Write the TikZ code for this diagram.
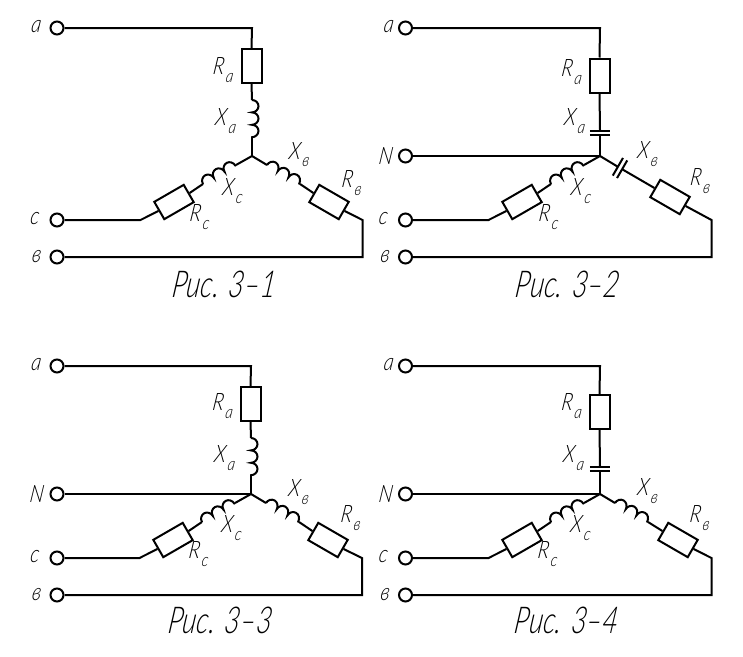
\documentclass[tikz,border=0pt]{standalone}
\usepackage{fontspec}
\usepackage{tikz}
\usetikzlibrary{decorations.pathmorphing}
\newfontfamily\gostfont{Lato}[UprightFont=* Light Italic,FakeStretch=0.82,FakeSlant=0.14]
\newfontfamily\titlefont{Lato}[UprightFont=* Light Italic,FakeStretch=0.735,FakeSlant=0.14]
\newcommand{\sublabel}[2]{#1\kern2pt\raisebox{-0.3em}{\fontsize{18}{18}\selectfont #2}}

\begin{document}
\begin{tikzpicture}[x=1pt,y=-1pt,
		term_style/.style={circle,draw=black,line width=2pt,fill=white,minimum size=13pt,inner sep=0pt},
		res_style/.style={rectangle,draw=black,line width=2pt,fill=white,minimum width=34pt,minimum height=20pt,inner sep=0pt},
		cap_style/.style={rectangle,minimum width=4.5pt,minimum height=20pt,inner sep=0pt},
		text_style/.style={font=\gostfont\fontsize{24}{24}\selectfont,inner sep=0pt},
		title_style/.style={font=\titlefont\fontsize{37}{37}\selectfont,inner sep=0pt},
		edge_style/.style={draw=black,line width=2pt,line join=miter},
		coil_style/.style={draw=black,line width=2pt,decorate,decoration={bumps,segment length=24.8pt,amplitude=6.5pt}}]

		\useasboundingbox (0,0) rectangle (743,656);

		% Fig. 3-1
		\node[term_style] (a1) at (57,28)  {};
		\node[term_style] (c1) at (57,220)  {};
		\node[term_style] (b1) at (57,257)  {};
		\node[text_style] (la1) at (35.5,27)  {а};
		\node[text_style] (lc1) at (34,219)  {с};
		\node[text_style] (lb1) at (36,257)  {в};
		\node[res_style,rotate=-90] (ra1) at (251.5,66)  {};
		\node[res_style,rotate=30] (rc1) at (174,202)  {};
		\node[res_style,rotate=-30] (rb1) at (329,202)  {};
		\coordinate (hub1) at (252,156);
		\coordinate (ta1) at (252,28);
		\coordinate (tc1) at (140.5,220);
		\coordinate (tb1) at (362.5,220);
		\coordinate (bb1) at (362.5,257);
		\coordinate (xa1s) at (252,100);
		\coordinate (xa1e) at (252,138);
		\coordinate (xb1s) at (267,165);
		\coordinate (xb1e) at (300,184);
		\coordinate (xc1s) at (203,184);
		\coordinate (xc1e) at (236,165);
		\draw[edge_style]  (a1) -- (ta1) -- (ra1.west);
		\draw[edge_style]  (ra1.east) -- (xa1s);
		\draw[coil_style]  (xa1s) -- (xa1e);
		\draw[edge_style]  (xa1e) -- (hub1);
		\draw[edge_style]  (hub1) -- (xb1s);
		\draw[coil_style]  (xb1s) -- (xb1e);
		\draw[edge_style]  (xb1e) -- (rb1.west);
		\draw[edge_style]  (rb1.east) -- (tb1) -- (bb1) -- (b1);
		\draw[edge_style]  (hub1) -- (xc1e);
		\draw[coil_style]  (xc1s) -- (xc1e);
		\draw[edge_style]  (xc1s) -- (rc1.east);
		\draw[edge_style]  (rc1.west) -- (tc1) -- (c1);
		\node[text_style] (lra1) at (222.5,70)  {\sublabel{R}{а}};
		\node[text_style] (lxa1) at (225,121)  {\sublabel{X}{а}};
		\node[text_style] (lxb1) at (298.5,154.5)  {\sublabel{X}{в}};
		\node[text_style] (lrb1) at (351,183)  {\sublabel{R}{в}};
		\node[text_style] (lxc1) at (232,191)  {\sublabel{X}{с}};
		\node[text_style] (lrc1) at (199,217)  {\sublabel{R}{с}};
		\node[title_style] (title1) at (223,284)  {Рис. 3–1};

		% Fig. 3-2
		\node[term_style] (a2) at (405.5,28)  {};
		\node[term_style] (n2) at (405.5,156)  {};
		\node[term_style] (c2) at (405.5,220)  {};
		\node[term_style] (b2) at (405.5,257)  {};
		\node[text_style] (la2) at (388,27)  {а};
		\node[text_style] (ln2) at (385,156)  {N};
		\node[text_style] (lc2) at (382.5,219)  {с};
		\node[text_style] (lb2) at (384.5,257)  {в};
		\node[res_style,rotate=-90] (ra2) at (599.5,75.5)  {};
		\node[res_style,rotate=30] (rc2) at (522,202)  {};
		\node[res_style,rotate=-30] (rb2) at (670,197)  {};
		\node[cap_style,rotate=90] (xa2) at (600,133)  {};
		\node[cap_style,rotate=-30] (xb2) at (620,168)  {};
		\coordinate (hub2) at (600,156);
		\coordinate (ta2) at (600,28);
		\coordinate (tc2) at (488.5,220);
		\coordinate (tb2) at (711.5,220);
		\coordinate (bb2) at (711.5,257);
		\coordinate (xc2s) at (551,184);
		\coordinate (xc2e) at (584,165);
		\draw[edge_style]  (a2) -- (ta2) -- (ra2.west);
		\draw[edge_style]  (ra2.east) -- (xa2.east);
		\draw[edge_style]  (xa2.north east) -- (xa2.south east);
		\draw[edge_style]  (xa2.north west) -- (xa2.south west);
		\draw[edge_style]  (xa2.west) -- (hub2);
		\draw[edge_style]  (n2) -- (hub2);
		\draw[edge_style]  (hub2) -- (xb2.west);
		\draw[edge_style]  (xb2.north west) -- (xb2.south west);
		\draw[edge_style]  (xb2.north east) -- (xb2.south east);
		\draw[edge_style]  (xb2.east) -- (rb2.west);
		\draw[edge_style]  (rb2.east) -- (tb2) -- (bb2) -- (b2);
		\draw[edge_style]  (hub2) -- (xc2e);
		\draw[coil_style]  (xc2s) -- (xc2e);
		\draw[edge_style]  (xc2s) -- (rc2.east);
		\draw[edge_style]  (rc2.west) -- (tc2) -- (c2);
		\node[text_style] (lra2) at (571,72)  {\sublabel{R}{а}};
		\node[text_style] (lxa2) at (574,121)  {\sublabel{X}{а}};
		\node[text_style] (lxb2) at (647,154)  {\sublabel{X}{в}};
		\node[text_style] (lrb2) at (699.5,181)  {\sublabel{R}{в}};
		\node[text_style] (lxc2) at (580.5,191)  {\sublabel{X}{с}};
		\node[text_style] (lrc2) at (548,217)  {\sublabel{R}{с}};
		\node[title_style] (title2) at (566.5,284)  {Рис. 3–2};

		% Fig. 3-3
		\node[term_style] (a3) at (57,366)  {};
		\node[term_style] (n3) at (57,494)  {};
		\node[term_style] (c3) at (57,558)  {};
		\node[term_style] (b3) at (57,595)  {};
		\node[text_style] (la3) at (35.5,365)  {а};
		\node[text_style] (ln3) at (36,494)  {N};
		\node[text_style] (lc3) at (34,557)  {с};
		\node[text_style] (lb3) at (36,595)  {в};
		\node[res_style,rotate=-90] (ra3) at (250.5,404)  {};
		\node[res_style,rotate=30] (rc3) at (173,540)  {};
		\node[res_style,rotate=-30] (rb3) at (328,540)  {};
		\coordinate (hub3) at (251,494);
		\coordinate (ta3) at (251,366);
		\coordinate (tc3) at (139.5,558);
		\coordinate (tb3) at (362,558);
		\coordinate (bb3) at (362,595);
		\coordinate (xa3s) at (251,438);
		\coordinate (xa3e) at (251,476);
		\coordinate (xb3s) at (266,503);
		\coordinate (xb3e) at (299,522);
		\coordinate (xc3s) at (202,522);
		\coordinate (xc3e) at (235,503);
		\draw[edge_style]  (a3) -- (ta3) -- (ra3.west);
		\draw[edge_style]  (ra3.east) -- (xa3s);
		\draw[coil_style]  (xa3s) -- (xa3e);
		\draw[edge_style]  (xa3e) -- (hub3);
		\draw[edge_style]  (n3) -- (hub3);
		\draw[edge_style]  (hub3) -- (xb3s);
		\draw[coil_style]  (xb3s) -- (xb3e);
		\draw[edge_style]  (xb3e) -- (rb3.west);
		\draw[edge_style]  (rb3.east) -- (tb3) -- (bb3) -- (b3);
		\draw[edge_style]  (hub3) -- (xc3e);
		\draw[coil_style]  (xc3s) -- (xc3e);
		\draw[edge_style]  (xc3s) -- (rc3.east);
		\draw[edge_style]  (rc3.west) -- (tc3) -- (c3);
		\node[text_style] (lra3) at (222,406)  {\sublabel{R}{а}};
		\node[text_style] (lxa3) at (224,458)  {\sublabel{X}{а}};
		\node[text_style] (lxb3) at (298,492)  {\sublabel{X}{в}};
		\node[text_style] (lrb3) at (350,518)  {\sublabel{R}{в}};
		\node[text_style] (lxc3) at (231,528)  {\sublabel{X}{с}};
		\node[text_style] (lrc3) at (198,554)  {\sublabel{R}{с}};
		\node[title_style] (title3) at (219,620)  {Рис. 3–3};

		% Fig. 3-4
		\node[term_style] (a4) at (405.5,366)  {};
		\node[term_style] (n4) at (405.5,494)  {};
		\node[term_style] (c4) at (405.5,558)  {};
		\node[term_style] (b4) at (405.5,595)  {};
		\node[text_style] (la4) at (388,365)  {а};
		\node[text_style] (ln4) at (385,494)  {N};
		\node[text_style] (lc4) at (382.5,557)  {с};
		\node[text_style] (lb4) at (384.5,595)  {в};
		\node[res_style,rotate=-90] (ra4) at (599.5,412)  {};
		\node[res_style,rotate=30] (rc4) at (522,540)  {};
		\node[res_style,rotate=-30] (rb4) at (678,540)  {};
		\node[cap_style,rotate=90] (xa4) at (600,469)  {};
		\coordinate (hub4) at (600,494);
		\coordinate (ta4) at (600,366);
		\coordinate (tc4) at (488.5,558);
		\coordinate (tb4) at (711.5,558);
		\coordinate (bb4) at (711.5,595);
		\coordinate (xb4s) at (615,503);
		\coordinate (xb4e) at (648,522);
		\coordinate (xc4s) at (551,522);
		\coordinate (xc4e) at (584,503);
		\draw[edge_style]  (a4) -- (ta4) -- (ra4.west);
		\draw[edge_style]  (ra4.east) -- (xa4.east);
		\draw[edge_style]  (xa4.north east) -- (xa4.south east);
		\draw[edge_style]  (xa4.north west) -- (xa4.south west);
		\draw[edge_style]  (xa4.west) -- (hub4);
		\draw[edge_style]  (n4) -- (hub4);
		\draw[edge_style]  (hub4) -- (xb4s);
		\draw[coil_style]  (xb4s) -- (xb4e);
		\draw[edge_style]  (xb4e) -- (rb4.west);
		\draw[edge_style]  (rb4.east) -- (tb4) -- (bb4) -- (b4);
		\draw[edge_style]  (hub4) -- (xc4e);
		\draw[coil_style]  (xc4s) -- (xc4e);
		\draw[edge_style]  (xc4s) -- (rc4.east);
		\draw[edge_style]  (rc4.west) -- (tc4) -- (c4);
		\node[text_style] (lra4) at (571,406)  {\sublabel{R}{а}};
		\node[text_style] (lxa4) at (573,458)  {\sublabel{X}{а}};
		\node[text_style] (lxb4) at (647,491)  {\sublabel{X}{в}};
		\node[text_style] (lrb4) at (699,518)  {\sublabel{R}{в}};
		\node[text_style] (lxc4) at (580,528)  {\sublabel{X}{с}};
		\node[text_style] (lrc4) at (547,554)  {\sublabel{R}{с}};
		\node[title_style] (title4) at (565.5,620)  {Рис. 3–4};
\end{tikzpicture}
\end{document}
